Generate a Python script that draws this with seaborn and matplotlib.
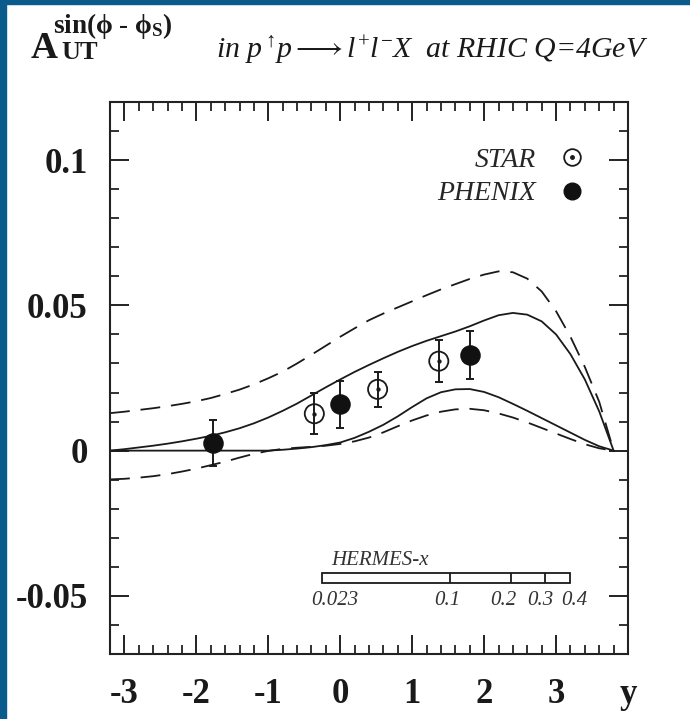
import numpy as np
import pandas as pd
import matplotlib
matplotlib.use('Agg')
import matplotlib.pyplot as plt
import seaborn as sns
from matplotlib.lines import Line2D
from matplotlib.patches import Rectangle
from matplotlib.legend_handler import HandlerTuple
from matplotlib.ticker import MultipleLocator
from matplotlib.font_manager import FontProperties

# =============================================================================
# Data
# =============================================================================

# rapidity grid for the model curves
rapidity = [-3.2, -3.0, -2.8, -2.6, -2.4, -2.2, -2.0, -1.8, -1.6, -1.4, -1.2, -1.0,
            -0.8, -0.6, -0.4, -0.2, 0.0, 0.2, 0.4, 0.6, 0.8, 1.0, 1.2, 1.4,
            1.6, 1.8, 2.0, 2.2, 2.4, 2.6, 2.8, 3.0, 3.2, 3.4, 3.6, 3.8]

upper_dashed = [0.0129, 0.0134, 0.0140, 0.0146, 0.0153, 0.0161, 0.0170, 0.0181,
                0.0195, 0.0210, 0.0228, 0.0249, 0.0272, 0.0300, 0.0330, 0.0361,
                0.0392, 0.0421, 0.0449, 0.0472, 0.0493, 0.0514, 0.0535, 0.0555,
                0.0573, 0.0591, 0.0606, 0.0617, 0.0614, 0.0592, 0.0548, 0.0480,
                0.0392, 0.0288, 0.0168, 0.0]
upper_solid = [0.0, 0.0005, 0.0011, 0.0017, 0.0024, 0.0032, 0.0041, 0.0051,
               0.0063, 0.0077, 0.0094, 0.0114, 0.0137, 0.0162, 0.0190, 0.0218,
               0.0245, 0.0271, 0.0295, 0.0318, 0.0340, 0.0360, 0.0378, 0.0394,
               0.0410, 0.0428, 0.0448, 0.0466, 0.0474, 0.0468, 0.0445, 0.0400,
               0.0332, 0.0245, 0.0135, 0.0]
lower_solid = [0.0, 0.0, 0.0, 0.0, 0.0, 0.0, 0.0, 0.0,
               0.0, 0.0, 0.0, 0.0, 0.0003, 0.0007, 0.0012, 0.0019,
               0.0028, 0.0044, 0.0065, 0.0089, 0.0118, 0.0150, 0.0180, 0.0201,
               0.0211, 0.0212, 0.0202, 0.0184, 0.0161, 0.0137, 0.0112, 0.0087,
               0.0062, 0.0037, 0.0015, 0.0]
lower_dashed = [-0.0099, -0.0097, -0.0093, -0.0088, -0.0081, -0.0072, -0.0062, -0.0050,
                -0.0038, -0.0024, -0.0011, -0.0001, 0.0006, 0.0010, 0.0013, 0.0017,
                0.0023, 0.0032, 0.0045, 0.0063, 0.0084, 0.0104, 0.0121, 0.0134,
                0.0142, 0.0144, 0.0139, 0.0128, 0.0114, 0.0097, 0.0078, 0.0059,
                0.0040, 0.0022, 0.0008, 0.0]

# data points
star_y = [-0.36, 0.52, 1.37]
star_asym = [0.0127, 0.0211, 0.0308]
star_err = [0.0071, 0.0060, 0.0072]

phenix_y = [-1.77, 0.0, 1.80]
phenix_asym = [0.0027, 0.0160, 0.0330]
phenix_err = [0.0080, 0.0081, 0.0082]

# HERMES x-range mapped on rapidity
hermes_labels = ['0.023', '0.1', '0.2', '0.3', '0.4']
hermes_rapidity = [-0.25, 1.53, 2.38, 2.84, 3.19]

x_ticks = [-3, -2, -1, 0, 1, 2, 3, 4]
x_tick_labels = ['-3', '-2', '-1', '0', '1', '2', '3', 'y']
y_ticks = [-0.05, 0.0, 0.05, 0.1]
y_tick_labels = ['-0.05', '0', '0.05', '0.1']

curve_names = ['upper_dashed', 'upper_solid', 'lower_solid', 'lower_dashed']
curves = pd.DataFrame({
    'y': rapidity * 4,
    'A': upper_dashed + upper_solid + lower_solid + lower_dashed,
    'curve': [n for n in curve_names for _ in rapidity],
})

# =============================================================================
# Plot
# =============================================================================

sns.set_style('ticks')
plt.rcParams['font.family'] = ['Liberation Serif', 'DejaVu Serif']
plt.rcParams['mathtext.fontset'] = 'custom'
plt.rcParams['mathtext.rm'] = 'Liberation Serif'
plt.rcParams['mathtext.it'] = 'Liberation Serif:italic'
plt.rcParams['mathtext.bf'] = 'Liberation Serif:bold'
plt.rcParams['axes.unicode_minus'] = False

fig = plt.figure(figsize=(6.9, 7.19), dpi=100)
ax = fig.add_axes([110 / 690, 1 - 654 / 719, 518 / 690, 552 / 719])

dash = (0, (11, 6))
styles = {'upper_dashed': dash, 'upper_solid': '-', 'lower_solid': '-', 'lower_dashed': dash}
for name, ls in styles.items():
    sub = curves[curves['curve'] == name]
    sns.lineplot(data=sub, x='y', y='A', ax=ax, color='#1a1a1a', lw=1.3,
                 linestyle=ls, sort=False, estimator=None)

# error bars
ax.errorbar(star_y, star_asym, yerr=star_err, fmt='none', ecolor='#1a1a1a',
            elinewidth=1.4, capsize=3, capthick=1.4, zorder=3)
ax.errorbar(phenix_y, phenix_asym, yerr=phenix_err, fmt='none', ecolor='#1a1a1a',
            elinewidth=1.4, capsize=3, capthick=1.4, zorder=3)

sns.scatterplot(x=star_y, y=star_asym, ax=ax, marker='o', s=190,
                facecolors='none', edgecolor='#1a1a1a', linewidth=1.3, zorder=4)
sns.scatterplot(x=star_y, y=star_asym, ax=ax, marker='o', s=8,
                color='#1a1a1a', edgecolor='#1a1a1a', zorder=5)
sns.scatterplot(x=phenix_y, y=phenix_asym, ax=ax, marker='o', s=190,
                color='#111111', edgecolor='#111111', linewidth=1, zorder=4)

# HERMES x bar
bar_lo, bar_hi = -0.0457, -0.0420
ax.add_patch(Rectangle((hermes_rapidity[0], bar_lo),
                       hermes_rapidity[-1] - hermes_rapidity[0], bar_hi - bar_lo,
                       fill=False, lw=1.3, edgecolor='#1a1a1a'))
ax.vlines(hermes_rapidity[1:-1], bar_lo, bar_hi, color='#1a1a1a', lw=1.3)
label_shift = [0.18, -0.04, -0.12, -0.06, 0.07]
for xv, lab, sh in zip(hermes_rapidity, hermes_labels, label_shift):
    ax.text(xv + sh, -0.0517, lab, ha='center', va='center', fontsize=15,
            style='italic', color='#333333')
ax.text(-0.12, -0.0378, 'HERMES-x', ha='left', va='center', fontsize=15,
        style='italic', color='#333333')

# legend
star_h = (Line2D([], [], ls='none', marker='o', ms=12, mfc='none', mec='#1a1a1a', mew=1.3),
          Line2D([], [], ls='none', marker='o', ms=2.5, color='#1a1a1a'))
phenix_h = Line2D([], [], ls='none', marker='o', ms=12, color='#111111')
ax.legend([star_h, phenix_h], ['STAR', 'PHENIX'],
          handler_map={tuple: HandlerTuple(ndivide=1, pad=0)},
          markerfirst=False, frameon=False, loc='upper right',
          bbox_to_anchor=(0.918, 0.918), borderaxespad=0, borderpad=0,
          handlelength=1.0, handletextpad=0.8, labelspacing=0.3,
          prop=FontProperties(family='Liberation Serif', style='italic', size=20))

ax.set_xlim(-3.2, 4.0)
ax.set_ylim(-0.07, 0.12)
ax.set_xticks(x_ticks)
ax.set_xticklabels(x_tick_labels)
ax.set_yticks(y_ticks)
ax.set_yticklabels(y_tick_labels)
ax.xaxis.set_minor_locator(MultipleLocator(0.2))
ax.yaxis.set_minor_locator(MultipleLocator(0.01))
ax.tick_params(which='both', direction='in', top=True, right=True, color='#222222')
ax.tick_params(which='major', length=14, width=1.4)
ax.tick_params(which='minor', length=6.5, width=1.3)
ax.tick_params(axis='x', which='major', pad=17)
ax.tick_params(axis='y', which='major', pad=16)
for lab in ax.get_xticklabels() + ax.get_yticklabels():
    lab.set_fontsize(25)
    lab.set_fontweight('bold')
    lab.set_color('#1a1a1a')
ax.set_xlabel('')
ax.set_ylabel('')
for sp in ax.spines.values():
    sp.set_linewidth(1.5)
    sp.set_color('#222222')

# titles
fig.text(31 / 690, 1 - 58 / 719, 'A', fontsize=27, fontweight='bold',
         color='#1a1a1a', va='baseline')
fig.text(61 / 690, 1 - 59 / 719, 'UT', fontsize=19, fontweight='bold',
         color='#1a1a1a', va='baseline')
fig.text(53 / 690, 1 - 33 / 719, r'$\mathbf{sin(}\mathbf{\phi}\ \mathbf{\text{-}}\ \mathbf{\phi}_{\mathbf{S}}\mathbf{)}$',
         fontsize=19.5, color='#1a1a1a', va='baseline')
fig.text(216 / 690, 1 - 58 / 719,
         r'in $p^{\uparrow}\!p \longrightarrow l^{+}l^{-}X$  at RHIC Q=4GeV',
         fontsize=21.5, style='italic', color='#1a1a1a', va='baseline')

# blue frame on left and top
fig.patches.append(Rectangle((0, 0), 6 / 690, 1, transform=fig.transFigure,
                             color='#0a5a8c', zorder=10))
fig.patches.append(Rectangle((0, 1 - 4 / 719), 1, 4 / 719, transform=fig.transFigure,
                             color='#0a5a8c', zorder=10))

fig.savefig('out.png', dpi=100, facecolor='white')
